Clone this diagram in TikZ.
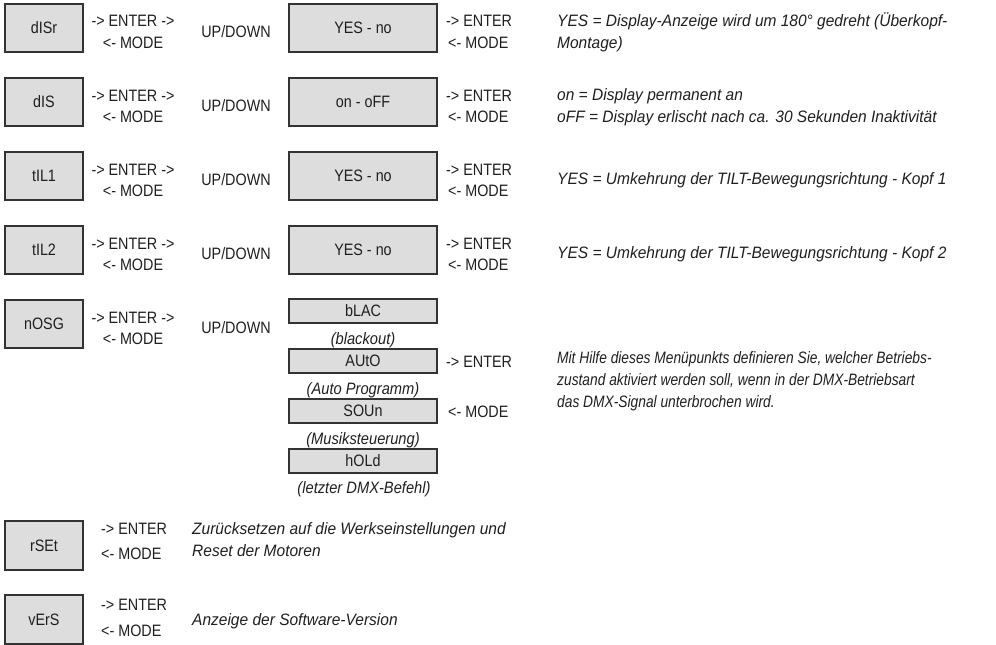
\documentclass[tikz,border=0pt]{standalone}
\usepackage{fontspec}
\setmainfont{Liberation Sans}[FakeStretch=0.87]
\newfontfamily\dscfam{Liberation Sans}[FakeStretch=0.94]
\newfontfamily\capfam{Liberation Sans}[FakeStretch=0.89]
\newfontfamily\nrwfam{Liberation Sans}[FakeStretch=0.835]
\newcommand\labfont{\fontsize{16.5}{19}\selectfont}
\newcommand\dscfont{\dscfam\fontsize{16.5}{22}\selectfont\itshape}
\newcommand\capfont{\capfam\fontsize{16.5}{22}\selectfont\itshape}
\newcommand\nrwfont{\nrwfam\fontsize{16.5}{22}\selectfont\itshape}
\begin{document}
\begin{tikzpicture}[x=1pt,y=-1pt,
  every node/.style={inner sep=0pt, text=black!88},
  lbox/.style={draw=black!80, fill=gray!27, line width=1.3pt, minimum width=78pt, minimum height=48pt, font=\labfont},
  mbox/.style={lbox, minimum width=148pt},
  sbox/.style={lbox, minimum width=148pt, minimum height=24pt},
  lab/.style={font=\labfont, anchor=base},
  labw/.style={font=\labfont, anchor=base west},
  dsc/.style={font=\dscfont, anchor=base west, align=left},
  capt/.style={font=\capfont, anchor=base}]
\useasboundingbox (0,0) rectangle (996,645);

% row 1: dISr
\node[lbox] (b1) at (44,28) {dISr};
\node[lab] (e1) at (133,27) {-> ENTER ->};
\node[lab] (m1) at (133,48) {<- MODE};
\node[lab] (u1) at (236,37) {UP/DOWN};
\node[mbox] (v1) at (363,28) {YES - no};
\node[labw] (re1) at (446,27) {-> ENTER};
\node[labw] (rm1) at (448,48) {<- MODE};
\node[dsc] (d1) at (557,48) {YES = Display-Anzeige wird um 180° gedreht (Überkopf-\\Montage)};

% row 2: dIS
\node[lbox] (b2) at (44,102) {dIS};
\node[lab] (e2) at (133,101) {-> ENTER ->};
\node[lab] (m2) at (133,122) {<- MODE};
\node[lab] (u2) at (236,111) {UP/DOWN};
\node[mbox] (v2) at (363,102) {on - oFF};
\node[labw] (re2) at (446,101) {-> ENTER};
\node[labw] (rm2) at (448,122) {<- MODE};
\node[dsc] (d2) at (557,122) {on = Display permanent an\\oFF = Display erlischt nach ca. 30 Sekunden Inaktivität};

% row 3: tIL1
\node[lbox] (b3) at (44,176) {tIL1};
\node[lab] (e3) at (133,175) {-> ENTER ->};
\node[lab] (m3) at (133,196) {<- MODE};
\node[lab] (u3) at (236,185) {UP/DOWN};
\node[mbox] (v3) at (363,176) {YES - no};
\node[labw] (re3) at (446,175) {-> ENTER};
\node[labw] (rm3) at (448,196) {<- MODE};
\node[dsc] (d3) at (557,184) {YES = Umkehrung der TILT-Bewegungsrichtung - Kopf 1};

% row 4: tIL2
\node[lbox] (b4) at (44,250) {tIL2};
\node[lab] (e4) at (133,249) {-> ENTER ->};
\node[lab] (m4) at (133,270) {<- MODE};
\node[lab] (u4) at (236,259) {UP/DOWN};
\node[mbox] (v4) at (363,250) {YES - no};
\node[labw] (re4) at (446,249) {-> ENTER};
\node[labw] (rm4) at (448,270) {<- MODE};
\node[dsc] (d4) at (557,258) {YES = Umkehrung der TILT-Bewegungsrichtung - Kopf 2};

% row 5: nOSG
\node[lbox] (b5) at (44,324) {nOSG};
\node[lab] (e5) at (133,323) {-> ENTER ->};
\node[lab] (m5) at (133,344) {<- MODE};
\node[lab] (u5) at (236,333) {UP/DOWN};
\node[sbox] (s1) at (363,311) {bLAC};
\node[capt] (c1) at (363,344) {(blackout)};
\node[sbox] (s2) at (363,361) {AUtO};
\node[capt] (c2) at (363,394) {(Auto Programm)};
\node[sbox] (s3) at (363,411) {SOUn};
\node[capt] (c3) at (363,444) {(Musiksteuerung)};
\node[sbox] (s4) at (363,461) {hOLd};
\node[capt] (c4) at (364,493) {(letzter DMX-Befehl)};
\node[labw] (re5) at (446,367) {-> ENTER};
\node[labw] (rm5) at (448,417) {<- MODE};
\node[dsc, font=\nrwfont] (d5) at (557,407) {Mit Hilfe dieses Menüpunkts definieren Sie, welcher Betriebs-\\zustand aktiviert werden soll, wenn in der DMX-Betriebsart\\das DMX-Signal unterbrochen wird.};

% row 6: rSEt
\node[lbox, minimum height=49pt] (b6) at (44,545.5) {rSEt};
\node[labw] (e6) at (101,534) {-> ENTER};
\node[labw] (m6) at (101,559) {<- MODE};
\node[dsc] (d6) at (192,556) {Zurücksetzen auf die Werkseinstellungen und\\Reset der Motoren};

% row 7: vErS
\node[lbox, minimum height=49pt] (b7) at (44,619.5) {vErS};
\node[labw] (e7) at (101,610) {-> ENTER};
\node[labw] (m7) at (101,636) {<- MODE};
\node[dsc] (d7) at (192,625) {Anzeige der Software-Version};
\end{tikzpicture}
\end{document}
